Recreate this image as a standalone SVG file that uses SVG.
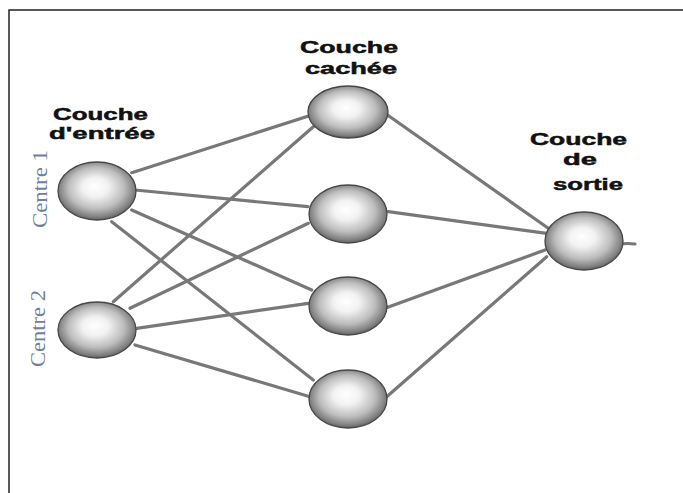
<svg xmlns="http://www.w3.org/2000/svg" width="683" height="493" viewBox="0 0 683 493">
  <defs>
    <radialGradient id="ball" cx="50%" cy="47%" r="55%" fx="47%" fy="42%">
      <stop offset="0%" stop-color="#ffffff"/>
      <stop offset="30%" stop-color="#f2f2f2"/>
      <stop offset="65%" stop-color="#bdbdbd"/>
      <stop offset="88%" stop-color="#808080"/>
      <stop offset="100%" stop-color="#555555"/>
    </radialGradient>
  </defs>
  <style>
    .node { fill: url(#ball); stroke: #474747; stroke-width: 1.3; }
    .conn { stroke: #787878; stroke-width: 3.2; stroke-linecap: round; fill: none; }
    .title { font-family: "Liberation Sans", Arial, sans-serif; font-weight: bold; font-size: 17px; fill: #111111; stroke: #111111; stroke-width: 0.5; }
    .centre { font-family: "Liberation Serif", "Times New Roman", serif; font-size: 22px; fill: #6f7f9e; }
  </style>
  <rect x="0" y="0" width="683" height="493" fill="#ffffff"/>
  <path d="M9,493 V10 H683" fill="none" stroke="#222222" stroke-width="1.5"/>

  <g id="connectors">
    <line class="conn" x1="131.7" y1="172.7" x2="311.7" y2="115"/>
    <line class="conn" x1="135" y1="190" x2="308" y2="206.7"/>
    <line class="conn" x1="131.7" y1="210" x2="311.7" y2="290"/>
    <line class="conn" x1="111.7" y1="221.7" x2="313.3" y2="380"/>
    <line class="conn" x1="113.3" y1="301.7" x2="313.3" y2="126.7"/>
    <line class="conn" x1="130" y1="308.3" x2="308.3" y2="223.3"/>
    <line class="conn" x1="136.7" y1="328.3" x2="308.3" y2="303.3"/>
    <line class="conn" x1="135" y1="345" x2="310" y2="396.7"/>
    <line class="conn" x1="385" y1="113.3" x2="548.3" y2="228.3"/>
    <line class="conn" x1="388.3" y1="211.7" x2="546.7" y2="233.3"/>
    <line class="conn" x1="385" y1="308.3" x2="545" y2="250"/>
    <line class="conn" x1="385" y1="398.3" x2="546.7" y2="256.7"/>
    <path class="conn" d="M620,244 Q627,243 635,244"/>
  </g>

  <g id="input1"><ellipse class="node" cx="97" cy="191" rx="39" ry="29"/></g>
  <g id="input2"><ellipse class="node" cx="97" cy="330" rx="39" ry="28"/></g>
  <g id="hidden1"><ellipse class="node" cx="348" cy="112" rx="40" ry="26"/></g>
  <g id="hidden2"><ellipse class="node" cx="348" cy="214" rx="39" ry="29"/></g>
  <g id="hidden3"><ellipse class="node" cx="348" cy="306" rx="39" ry="29"/></g>
  <g id="hidden4"><ellipse class="node" cx="348" cy="399" rx="39" ry="29"/></g>
  <g id="output"><ellipse class="node" cx="584" cy="241" rx="39" ry="29"/></g>

  <g id="label-input">
    <text class="title" x="53" y="119.5" textLength="95" lengthAdjust="spacingAndGlyphs">Couche</text>
    <text class="title" x="49" y="138.5" textLength="106" lengthAdjust="spacingAndGlyphs">d'entrée</text>
  </g>
  <g id="label-hidden">
    <text class="title" x="300" y="53" textLength="98" lengthAdjust="spacingAndGlyphs">Couche</text>
    <text class="title" x="305" y="74" textLength="92" lengthAdjust="spacingAndGlyphs">cachée</text>
  </g>
  <g id="label-output">
    <text class="title" x="530" y="145" textLength="97" lengthAdjust="spacingAndGlyphs">Couche</text>
    <text class="title" x="563" y="164.5" textLength="34" lengthAdjust="spacingAndGlyphs">de</text>
    <text class="title" x="553" y="190" textLength="70" lengthAdjust="spacingAndGlyphs">sortie</text>
  </g>
  <g id="label-centres">
    <text class="centre" transform="translate(47,228) rotate(-90)" textLength="78" lengthAdjust="spacingAndGlyphs">Centre 1</text>
    <text class="centre" transform="translate(45,367) rotate(-90)" textLength="77" lengthAdjust="spacingAndGlyphs">Centre 2</text>
  </g>
</svg>
